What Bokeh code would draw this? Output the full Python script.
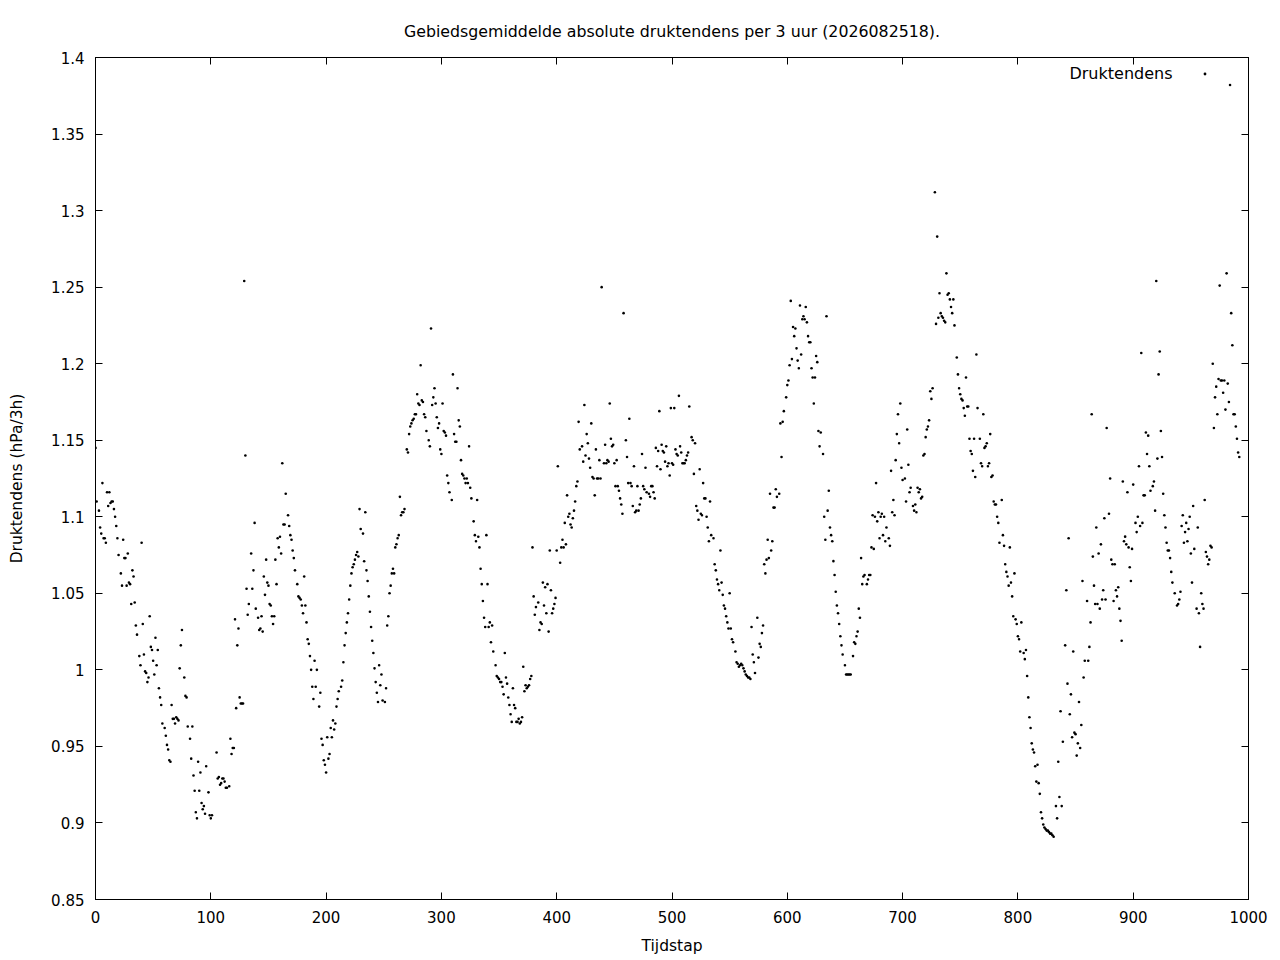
from bokeh.plotting import figure
from bokeh.models import (ColumnDataSource, FixedTicker, LinearAxis, Legend, LegendItem,
                          Label, CustomJSTickFormatter, Range1d)
from bokeh.embed import file_html
from bokeh.resources import INLINE

# (tijdstap, druktendens) pairs, per 100 time steps
seg_000 = [(0,1.145),(1,1.110),(3,1.104),(4,1.093),(5,1.089),(6,1.122),(7,1.086),(8,1.086),(9,1.083),(10,1.116),
           (11,1.107),(12,1.116),(13,1.109),(14,1.110),(15,1.110),(16,1.105),(17,1.100),(18,1.094),(19,1.086),(20,1.075),
           (22,1.063),(23,1.055),(24,1.085),(25,1.073),(26,1.073),(27,1.055),(28,1.076),(29,1.057),(30,1.056),(31,1.043),
           (32,1.065),(33,1.061),(34,1.044),(35,1.029),(36,1.023),(38,1.009),(39,1.003),(40,1.083),(41,1.030),(42,1.010),
           (43,0.999),(44,0.998),(45,0.992),(46,0.995),(47,1.035),(48,1.015),(49,1.013),(50,1.006),(51,0.997),(52,1.021),
           (53,1.003),(54,1.013),(55,0.988),(56,0.982),(57,0.977),(58,0.965),(60,0.962),(61,0.957),(62,0.951),(63,0.948),
           (64,0.941),(65,0.940),(66,0.977),(67,0.968),(68,0.968),(69,0.965),(70,0.969),(71,0.968),(72,0.967),(73,1.001),
           (74,1.016),(75,1.026),(77,0.995),(78,0.983),(79,0.982),(80,0.963),(82,0.955),(83,0.942),(84,0.963),(85,0.931),
           (86,0.921),(87,0.907),(88,0.903),(89,0.940),(90,0.921),(91,0.933),(92,0.913),(93,0.909),(94,0.911),(95,0.906),
           (96,0.937),(98,0.920),(99,0.905),(100,0.903),(101,0.905)]
seg_100 = [(105,0.946),(106,0.929),(107,0.930),(108,0.925),(109,0.926),(110,0.929),(111,0.929),(112,0.927),(113,0.923),(114,0.923),
           (116,0.924),(117,0.955),(118,0.945),(119,0.949),(120,0.949),(121,1.033),(122,0.975),(123,1.016),(124,1.027),(125,0.982),
           (126,0.978),(127,0.978),(128,0.978),(129,1.254),(130,1.140),(131,1.053),(132,1.036),(133,1.043),(135,1.076),(136,1.053),
           (137,1.065),(138,1.096),(139,1.040),(141,1.034),(142,1.026),(143,1.027),(144,1.035),(145,1.025),(146,1.061),(147,1.049),
           (148,1.072),(149,1.057),(150,1.055),(151,1.043),(152,1.042),(153,1.035),(154,1.030),(155,1.035),(156,1.072),(157,1.056),
           (158,1.086),(159,1.080),(160,1.087),(161,1.076),(162,1.135),(163,1.095),(164,1.095),(165,1.115),(167,1.101),(168,1.094),
           (169,1.088),(170,1.085),(171,1.078),(172,1.073),(173,1.065),(175,1.056),(176,1.048),(177,1.047),(178,1.046),(179,1.042),
           (180,1.037),(181,1.061),(182,1.042),(183,1.031),(184,1.020),(185,1.017),(186,1.009),(187,1.000),(188,0.989),(189,0.981),
           (190,1.006),(191,0.989),(192,1.000),(194,0.976),(195,0.985),(196,0.955),(197,0.951),(198,0.941),(199,0.938),(200,0.933)]
seg_200 = [(201,0.956),(202,0.942),(203,0.945),(204,0.962),(205,0.956),(206,0.967),(207,0.961),(208,0.965),(209,0.976),(210,0.981),
           (211,0.986),(213,0.989),(214,0.993),(215,1.005),(216,1.016),(217,1.024),(218,1.031),(219,1.037),(220,1.046),(221,1.055),
           (222,1.063),(223,1.067),(224,1.069),(225,1.072),(226,1.075),(227,1.077),(228,1.074),(229,1.105),(230,1.092),(232,1.089),
           (233,1.071),(234,1.103),(235,1.065),(236,1.058),(237,1.048),(238,1.038),(239,1.028),(240,1.019),(241,1.011),(242,1.001),
           (243,0.992),(244,0.985),(245,0.979),(246,1.003),(247,0.990),(248,0.997),(249,0.980),(251,0.979),(252,0.988),(253,1.029),
           (254,1.035),(255,1.050),(256,1.055),(257,1.063),(258,1.066),(259,1.063),(260,1.080),(261,1.082),(262,1.086),(263,1.088),
           (264,1.113),(265,1.101),(266,1.103),(267,1.103),(268,1.105),(270,1.144),(271,1.142),(272,1.154),(273,1.159),(274,1.161),
           (275,1.163),(276,1.164),(277,1.167),(278,1.167),(279,1.180),(280,1.174),(281,1.173),(282,1.199),(283,1.176),(284,1.175),
           (285,1.167),(286,1.165),(287,1.156),(289,1.150),(290,1.146),(291,1.223),(292,1.173),(293,1.178),(294,1.184),(295,1.174),
           (296,1.165),(297,1.158),(298,1.161),(299,1.144),(300,1.141),(301,1.174)]
seg_300 = [(302,1.156),(303,1.155),(304,1.153),(305,1.127),(306,1.122),(307,1.116),(309,1.111),(310,1.193),(311,1.154),(312,1.149),
           (313,1.149),(314,1.184),(315,1.163),(316,1.159),(317,1.137),(318,1.128),(319,1.127),(320,1.125),(321,1.122),(322,1.125),
           (323,1.122),(324,1.146),(325,1.119),(326,1.112),(328,1.097),(329,1.088),(330,1.084),(331,1.111),(332,1.087),(333,1.080),
           (334,1.066),(335,1.056),(336,1.045),(337,1.034),(338,1.028),(339,1.088),(340,1.056),(341,1.028),(342,1.031),(343,1.018),
           (344,1.029),(345,1.012),(347,1.003),(348,0.996),(349,0.995),(350,0.994),(351,0.992),(352,0.992),(353,0.989),(354,0.984),
           (355,1.011),(356,0.995),(357,0.991),(358,0.982),(359,0.977),(360,0.971),(361,0.966),(362,0.988),(363,0.977),(364,0.975),
           (365,0.966),(366,0.966),(367,0.968),(368,0.965),(369,0.966),(370,0.969),(371,1.002),(372,0.986),(373,0.990),(374,0.988),
           (375,0.989),(376,0.990),(377,0.994),(378,0.996),(379,1.080),(380,1.048),(381,1.036),(382,1.041),(384,1.044),(385,1.026),
           (386,1.031),(387,1.030),(388,1.057),(389,1.042),(390,1.054),(391,1.037),(392,1.056),(393,1.025),(394,1.078),(395,1.052),
           (396,1.037),(397,1.040),(398,1.043),(399,1.047),(400,1.078)]
seg_400 = [(401,1.133),(403,1.070),(404,1.080),(405,1.085),(406,1.080),(407,1.096),(408,1.082),(409,1.114),(410,1.100),(411,1.102),
           (412,1.095),(413,1.093),(414,1.099),(415,1.104),(416,1.110),(417,1.120),(418,1.123),(419,1.162),(420,1.144),(422,1.146),
           (423,1.136),(424,1.173),(425,1.140),(426,1.154),(427,1.148),(428,1.138),(429,1.132),(430,1.161),(431,1.126),(432,1.125),
           (433,1.114),(434,1.144),(435,1.125),(436,1.125),(437,1.137),(438,1.125),(439,1.250),(441,1.135),(442,1.147),(443,1.135),
           (444,1.137),(445,1.136),(446,1.174),(447,1.151),(448,1.146),(449,1.147),(450,1.135),(451,1.120),(452,1.137),(453,1.120),
           (454,1.117),(455,1.112),(456,1.108),(457,1.102),(458,1.233),(460,1.150),(461,1.139),(462,1.122),(463,1.164),(464,1.122),
           (465,1.120),(466,1.107),(467,1.133),(468,1.103),(469,1.104),(470,1.120),(471,1.104),(472,1.108),(473,1.112),(474,1.141),
           (475,1.120),(476,1.118),(477,1.132),(478,1.116),(480,1.115),(481,1.113),(482,1.120),(483,1.120),(484,1.116),(485,1.112),
           (486,1.145),(487,1.133),(488,1.143),(489,1.169),(490,1.131),(491,1.147),(492,1.143),(493,1.142),(494,1.136),(495,1.146),
           (496,1.133),(497,1.135),(498,1.127),(499,1.171),(500,1.135)]
seg_500 = [(501,1.134),(502,1.171),(503,1.144),(504,1.141),(505,1.140),(506,1.179),(507,1.146),(508,1.142),(509,1.135),(510,1.135),
           (511,1.135),(512,1.137),(513,1.140),(514,1.142),(515,1.172),(517,1.152),(518,1.150),(519,1.128),(520,1.148),(521,1.107),
           (522,1.104),(523,1.098),(524,1.131),(525,1.102),(526,1.101),(527,1.122),(528,1.112),(529,1.112),(530,1.100),(531,1.093),
           (532,1.084),(533,1.110),(534,1.088),(536,1.086),(537,1.069),(538,1.065),(539,1.059),(540,1.056),(541,1.052),(542,1.078),
           (543,1.057),(544,1.049),(545,1.042),(546,1.040),(547,1.035),(548,1.031),(549,1.027),(550,1.050),(551,1.027),(552,1.020),
           (553,1.018),(555,1.012),(556,1.005),(557,1.004),(558,1.002),(559,1.003),(560,1.004),(561,1.003),(562,1.001),(563,0.999),
           (564,0.997),(565,0.996),(566,0.995),(567,0.995),(568,0.994),(569,1.028),(570,1.010),(571,1.005),(572,0.998),(574,1.034),
           (575,1.008),(576,1.017),(577,1.015),(578,1.024),(579,1.029),(580,1.069),(581,1.063),(582,1.072),(583,1.085),(584,1.073),
           (585,1.115),(586,1.078),(587,1.084),(588,1.106),(589,1.106),(590,1.118),(591,1.113),(593,1.115),(594,1.161),(595,1.139),
           (596,1.162),(597,1.169),(599,1.178)]
seg_600 = [(600,1.186),(601,1.189),(602,1.199),(603,1.241),(604,1.203),(605,1.224),(606,1.218),(607,1.223),(608,1.210),(609,1.202),
           (610,1.197),(611,1.238),(612,1.206),(613,1.229),(614,1.231),(615,1.229),(616,1.237),(617,1.227),(618,1.218),(619,1.214),
           (620,1.214),(621,1.197),(622,1.191),(623,1.174),(624,1.191),(625,1.205),(626,1.201),(627,1.156),(628,1.146),(629,1.155),
           (631,1.141),(632,1.100),(633,1.085),(634,1.231),(635,1.104),(636,1.117),(637,1.093),(638,1.088),(639,1.084),(640,1.071),
           (641,1.062),(642,1.051),(643,1.042),(644,1.037),(645,1.030),(646,1.022),(647,1.016),(648,1.010),(650,1.003),(651,0.997),
           (652,0.997),(653,0.997),(654,0.997),(655,0.997),(657,1.009),(658,1.018),(659,1.017),(660,1.022),(661,1.025),(662,1.040),
           (663,1.034),(664,1.073),(665,1.056),(666,1.061),(667,1.062),(669,1.056),(670,1.059),(671,1.062),(672,1.062),(673,1.080),
           (674,1.101),(675,1.079),(676,1.100),(677,1.122),(678,1.097),(679,1.103),(680,1.086),(681,1.100),(682,1.102),(683,1.088),
           (684,1.100),(685,1.084),(686,1.093),(688,1.086),(689,1.081),(690,1.130),(691,1.103),(692,1.111),(693,1.101),(694,1.137),
           (695,1.154),(696,1.167),(697,1.148),(698,1.174),(699,1.132),(700,1.124)]
seg_700 = [(702,1.125),(703,1.110),(704,1.157),(705,1.134),(706,1.116),(707,1.119),(709,1.107),(710,1.104),(711,1.108),(712,1.103),
           (713,1.119),(714,1.116),(715,1.118),(716,1.112),(717,1.113),(718,1.140),(719,1.141),(720,1.152),(721,1.157),(722,1.159),
           (723,1.163),(724,1.182),(725,1.177),(726,1.184),(728,1.312),(729,1.226),(730,1.283),(731,1.230),(732,1.246),(733,1.233),
           (734,1.231),(735,1.230),(736,1.228),(737,1.227),(738,1.259),(739,1.245),(740,1.246),(741,1.242),(742,1.237),(743,1.233),
           (744,1.242),(745,1.225),(747,1.204),(748,1.193),(749,1.184),(750,1.180),(751,1.177),(752,1.176),(753,1.171),(754,1.166),
           (755,1.191),(756,1.172),(757,1.172),(758,1.151),(759,1.143),(760,1.141),(761,1.130),(762,1.151),(763,1.126),(764,1.206),
           (765,1.171),(767,1.151),(768,1.135),(769,1.133),(770,1.167),(771,1.145),(772,1.146),(773,1.148),(774,1.133),(775,1.135),
           (776,1.154),(777,1.126),(778,1.127),(779,1.110),(780,1.108),(781,1.108),(782,1.100),(783,1.096),(784,1.083),(786,1.111),
           (787,1.088),(788,1.081),(789,1.069),(790,1.064),(791,1.061),(792,1.055),(793,1.080),(794,1.057),(795,1.048),(796,1.035),
           (797,1.063),(798,1.033),(799,1.030),(800,1.022)]
seg_800 = [(801,1.020),(802,1.012),(803,1.031),(805,1.011),(806,1.007),(807,1.013),(808,0.996),(809,0.982),(810,0.969),(811,0.962),
           (812,0.952),(813,0.948),(814,0.946),(815,0.937),(816,0.927),(817,0.938),(818,0.926),(819,0.919),(820,0.907),(821,0.903),
           (822,0.899),(823,0.897),(824,0.896),(825,0.895),(826,0.895),(827,0.894),(828,0.893),(829,0.893),(830,0.892),(831,0.891),
           (833,0.911),(834,0.903),(835,0.940),(836,0.917),(837,0.973),(838,0.911),(839,0.953),(841,1.016),(842,1.052),(843,0.991),
           (844,1.086),(845,0.971),(846,0.984),(847,0.956),(848,1.012),(849,0.959),(850,0.958),(851,0.944),(852,0.952),(853,0.979),
           (854,0.949),(855,0.964),(856,1.058),(857,0.995),(858,1.006),(860,1.045),(861,1.006),(862,1.015),(863,1.031),(864,1.167),
           (865,1.074),(866,1.055),(867,1.043),(868,1.093),(869,1.043),(870,1.076),(871,1.040),(872,1.082),(873,1.046),(874,1.052),
           (875,1.099),(876,1.046),(877,1.158),(879,1.102),(880,1.125),(881,1.072),(882,1.069),(883,1.045),(884,1.069),(885,1.052),
           (886,1.048),(887,1.054),(888,1.040),(889,1.032),(890,1.019),(891,1.123),(892,1.084),(893,1.087),(894,1.082),(895,1.116),
           (896,1.080),(897,1.067),(898,1.058),(899,1.079)]
seg_900 = [(900,1.121),(902,1.096),(903,1.090),(904,1.100),(905,1.133),(906,1.094),(907,1.207),(908,1.096),(909,1.114),(910,1.114),
           (911,1.155),(912,1.141),(913,1.153),(914,1.133),(915,1.117),(917,1.120),(918,1.123),(919,1.104),(920,1.254),(921,1.138),
           (922,1.193),(923,1.208),(924,1.156),(925,1.139),(926,1.115),(927,1.101),(928,1.093),(929,1.083),(930,1.078),(931,1.078),
           (932,1.073),(933,1.064),(934,1.057),(936,1.050),(938,1.042),(939,1.043),(940,1.046),(941,1.051),(942,1.094),(943,1.101),
           (944,1.083),(945,1.090),(946,1.096),(947,1.084),(948,1.092),(949,1.100),(950,1.076),(951,1.057),(952,1.107),(953,1.079),
           (955,1.040),(956,1.093),(957,1.037),(958,1.015),(959,1.050),(960,1.043),(961,1.040),(962,1.111),(963,1.077),(964,1.074),
           (965,1.069),(966,1.072),(967,1.081),(968,1.080),(969,1.200),(970,1.158),(971,1.178),(972,1.185),(973,1.167),(974,1.190),
           (975,1.251),(976,1.189),(977,1.189),(978,1.181),(979,1.189),(980,1.170),(981,1.259),(982,1.187),(983,1.175),(984,1.382),
           (985,1.233),(986,1.212),(987,1.167),(988,1.167),(989,1.159),(990,1.151),(991,1.142),(992,1.139)]

x_ticks = [0, 100, 200, 300, 400, 500, 600, 700, 800, 900, 1000]
y_ticks = [0.85, 0.9, 0.95, 1.0, 1.05, 1.1, 1.15, 1.2, 1.25, 1.3, 1.35, 1.4]
title_text = "Gebiedsgemiddelde absolute druktendens per 3 uur (2026082518)."
x_label = "Tijdstap"
y_label = "Druktendens (hPa/3h)"
series_name = "Druktendens"

points = [pt for seg in (seg_000, seg_100, seg_200, seg_300, seg_400, seg_500, seg_600, seg_700, seg_800, seg_900) for pt in seg]
source = ColumnDataSource(data=dict(tijdstap=[pt[0] for pt in points], druktendens=[pt[1] for pt in points]))

FONT = "DejaVu Sans"
FS = "15px"

p = figure(width=1272, height=960, output_backend="svg", toolbar_location=None,
           x_range=Range1d(0, 1000), y_range=Range1d(0.85, 1.4),
           min_border_left=95, min_border_right=24, min_border_top=57, min_border_bottom=61,
           x_axis_label=x_label, y_axis_label=y_label)
p.title.text = title_text
p.title.align = "center"
p.title.text_font = FONT
p.title.text_font_size = "15.8px"
p.title.text_font_style = "normal"
p.title.text_color = "black"
p.title.standoff = 33
p.grid.visible = False
p.outline_line_color = "black"
p.outline_line_width = 1
p.background_fill_color = "white"
p.border_fill_color = "white"

def style_axis(ax, ticks, show_labels=True):
    ax.ticker = FixedTicker(ticks=ticks)
    ax.axis_line_color = "black"
    ax.major_tick_line_color = "black"
    ax.major_tick_in = 7
    ax.major_tick_out = 0
    ax.minor_tick_in = 0
    ax.minor_tick_out = 0
    ax.minor_tick_line_color = None
    ax.major_label_text_font = FONT
    ax.major_label_text_font_size = FS
    ax.major_label_text_color = "black"
    ax.axis_label_text_font = FONT
    ax.axis_label_text_font_size = "15.5px"
    ax.axis_label_text_font_style = "normal"
    ax.axis_label_text_color = "black"
    if not show_labels:
        ax.formatter = CustomJSTickFormatter(code="return '';")
        ax.major_label_standoff = 0

xa = p.xaxis[0]
style_axis(xa, x_ticks)
xa.major_label_standoff = 11
xa.axis_label_standoff = 11
ya = p.yaxis[0]
style_axis(ya, y_ticks)
ya.formatter = CustomJSTickFormatter(code="return String(parseFloat(tick.toFixed(2)));")
ya.major_label_standoff = 11
ya.axis_label_standoff = 22

top_axis = LinearAxis()
style_axis(top_axis, x_ticks, show_labels=False)
p.add_layout(top_axis, "above")
right_axis = LinearAxis()
style_axis(right_axis, y_ticks, show_labels=False)
p.add_layout(right_axis, "right")

r = p.scatter("tijdstap", "druktendens", source=source, size=2.6, marker="circle",
              fill_color="black", line_color=None)

legend = Legend(items=[LegendItem(label=" ", renderers=[r])], location=(1105.5, 822.5),
                padding=0, margin=0, spacing=0, label_standoff=0, glyph_width=7, glyph_height=7,
                label_text_font_size="1px", border_line_alpha=0, background_fill_alpha=0)
p.add_layout(legend)
p.add_layout(Label(x=1077, y=826, x_units="screen", y_units="screen", text=series_name,
                   text_align="right", text_baseline="middle", text_font=FONT,
                   text_font_size="16px", text_color="black"))

open("out.html", "w").write(file_html(p, INLINE))
